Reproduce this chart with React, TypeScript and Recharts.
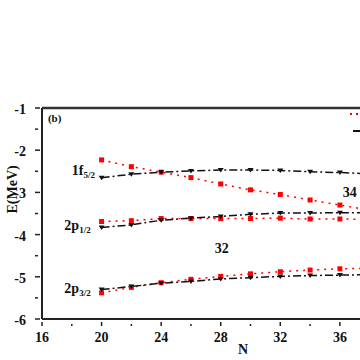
import { Line, LineChart, ReferenceDot, ReferenceLine, XAxis, YAxis } from "recharts";

const neutrons = [20, 22, 24, 26, 28, 30, 32, 34, 36, 38];

const f52Red = [-2.23, -2.39, -2.52, -2.65, -2.8, -2.94, -3.05, -3.18, -3.3, -3.42];
const f52Black = [-2.65, -2.57, -2.52, -2.49, -2.47, -2.47, -2.48, -2.51, -2.53, -2.56];
const p12Red = [-3.69, -3.67, -3.62, -3.62, -3.62, -3.62, -3.61, -3.63, -3.63, -3.64];
const p12Black = [-3.83, -3.77, -3.66, -3.61, -3.57, -3.52, -3.49, -3.49, -3.48, -3.48];
const p32Red = [-5.38, -5.25, -5.14, -5.06, -4.99, -4.93, -4.88, -4.84, -4.81, -4.8];
const p32Black = [-5.3, -5.23, -5.15, -5.11, -5.05, -5.02, -4.99, -4.97, -4.96, -4.95];

const xTicks = [16, 18, 20, 22, 24, 26, 28, 30, 32, 34, 36];
const xLabels = [16, 20, 24, 28, 32, 36];
const yTicks = [-6, -5.5, -5, -4.5, -4, -3.5, -3, -2.5, -2, -1.5, -1];

const data = neutrons.map((n, i) => ({
  n,
  f52Red: f52Red[i],
  f52Black: f52Black[i],
  p12Red: p12Red[i],
  p12Black: p12Black[i],
  p32Red: p32Red[i],
  p32Black: p32Black[i],
}));

const font = "Liberation Serif, DejaVu Serif, serif";
const RED = "#ff0000";
const BLACK = "#111111";

function XTick(props: any) {
  const { x, y, payload } = props;
  const major = xLabels.includes(payload.value);
  return (
    <g>
      <line x1={x} x2={x} y1={y - 1} y2={y - (major ? 5 : 3)} stroke="#222" strokeWidth={1.5} />
      {major && (
        <text x={x} y={y + 15} textAnchor="middle" fontFamily={font} fontWeight="bold" fontSize={14} fill="#111">
          {payload.value}
        </text>
      )}
    </g>
  );
}

function YTick(props: any) {
  const { x, y, payload } = props;
  const major = Number.isInteger(payload.value);
  return (
    <g>
      <line x1={x + 1} x2={x + (major ? 6 : 4)} y1={y} y2={y} stroke="#222" strokeWidth={1.5} />
      {major && (
        <text x={x - 8} y={y + 6} textAnchor="end" fontFamily={font} fontWeight="bold" fontSize={14} fill="#111">
          {payload.value}
        </text>
      )}
    </g>
  );
}

function StateLabel({ cx, cy, main, sub }: any) {
  return (
    <text x={cx} y={cy} fontFamily={font} fontWeight="bold" fontSize={14} fill="#111">
      {main}
      <tspan fontSize={9} dy={3}>{sub}</tspan>
    </text>
  );
}

function PlainLabel({ cx, cy, text, size }: any) {
  return (
    <text x={cx} y={cy} fontFamily={font} fontWeight="bold" fontSize={size} fill="#111">
      {text}
    </text>
  );
}

function RedSquare({ cx, cy }: any) {
  return <rect x={cx - 2.5} y={cy - 2.5} width={5} height={5} fill={RED} />;
}

function BlackTriangle({ cx, cy }: any) {
  return <path d={`M${cx - 3},${cy - 2} L${cx + 3},${cy - 2} L${cx},${cy + 2.5} Z`} fill={BLACK} />;
}

export default function App() {
  const redLine = { stroke: RED, strokeWidth: 1.5, strokeDasharray: "2 5", isAnimationActive: false, dot: <RedSquare />, activeDot: false } as const;
  const blackLine = { stroke: BLACK, strokeWidth: 1.5, strokeDasharray: "8 3 2 3", isAnimationActive: false, dot: <BlackTriangle />, activeDot: false } as const;
  return (
    <div style={{ position: "absolute", left: 0, top: 0, width: 360, height: 360, background: "#fff" }}>
      <LineChart width={360} height={360} data={data} margin={{ top: 108, right: 0, bottom: 0, left: 0 }}>
        <XAxis
          dataKey="n"
          type="number"
          domain={[16, 37.35]}
          allowDataOverflow
          ticks={xTicks}
          interval={0}
          height={41}
          tick={<XTick />}
          tickLine={false}
          axisLine={{ stroke: "#222", strokeWidth: 2 }}
          label={{ value: "N", position: "insideBottom", offset: 6, fontFamily: font, fontWeight: "bold", fontSize: 14, fill: "#111", dx: 42 }}
        />
        <YAxis
          type="number"
          domain={[-6, -1]}
          ticks={yTicks}
          interval={0}
          width={42}
          tick={<YTick />}
          tickLine={false}
          axisLine={{ stroke: "#222", strokeWidth: 2 }}
          label={{ value: "E(MeV)", angle: -90, position: "insideLeft", offset: 12, fontFamily: font, fontWeight: "bold", fontSize: 14, fill: "#111" }}
        />
        <ReferenceLine y={-1} stroke="#333" strokeWidth={2.5} />
        <Line dataKey="f52Red" {...redLine} />
        <Line dataKey="f52Black" {...blackLine} />
        <Line dataKey="p12Red" {...redLine} />
        <Line dataKey="p12Black" {...blackLine} />
        <Line dataKey="p32Red" {...redLine} />
        <Line dataKey="p32Black" {...blackLine} />
        <ReferenceDot x={16.4} y={-1.33} r={0} shape={<PlainLabel text="(b)" size={11} />} />
        <ReferenceDot x={18.0} y={-2.58} r={0} shape={<StateLabel main="1f" sub="5/2" />} />
        <ReferenceDot x={17.5} y={-3.9} r={0} shape={<StateLabel main="2p" sub="1/2" />} />
        <ReferenceDot x={17.5} y={-5.38} r={0} shape={<StateLabel main="2p" sub="3/2" />} />
        <ReferenceDot x={27.6} y={-4.43} r={0} shape={<PlainLabel text="32" size={14} />} />
        <ReferenceDot x={36.2} y={-3.11} r={0} shape={<PlainLabel text="34" size={14} />} />
      </LineChart>
      <svg width={10} height={30} style={{ position: "absolute", right: 0, top: 108 }}>
        <line x1={0} x2={10} y1={6} y2={6} stroke={RED} strokeWidth={2} strokeDasharray="2 4" />
        <line x1={3} x2={10} y1={23} y2={23} stroke={BLACK} strokeWidth={2} />
      </svg>
    </div>
  );
}
